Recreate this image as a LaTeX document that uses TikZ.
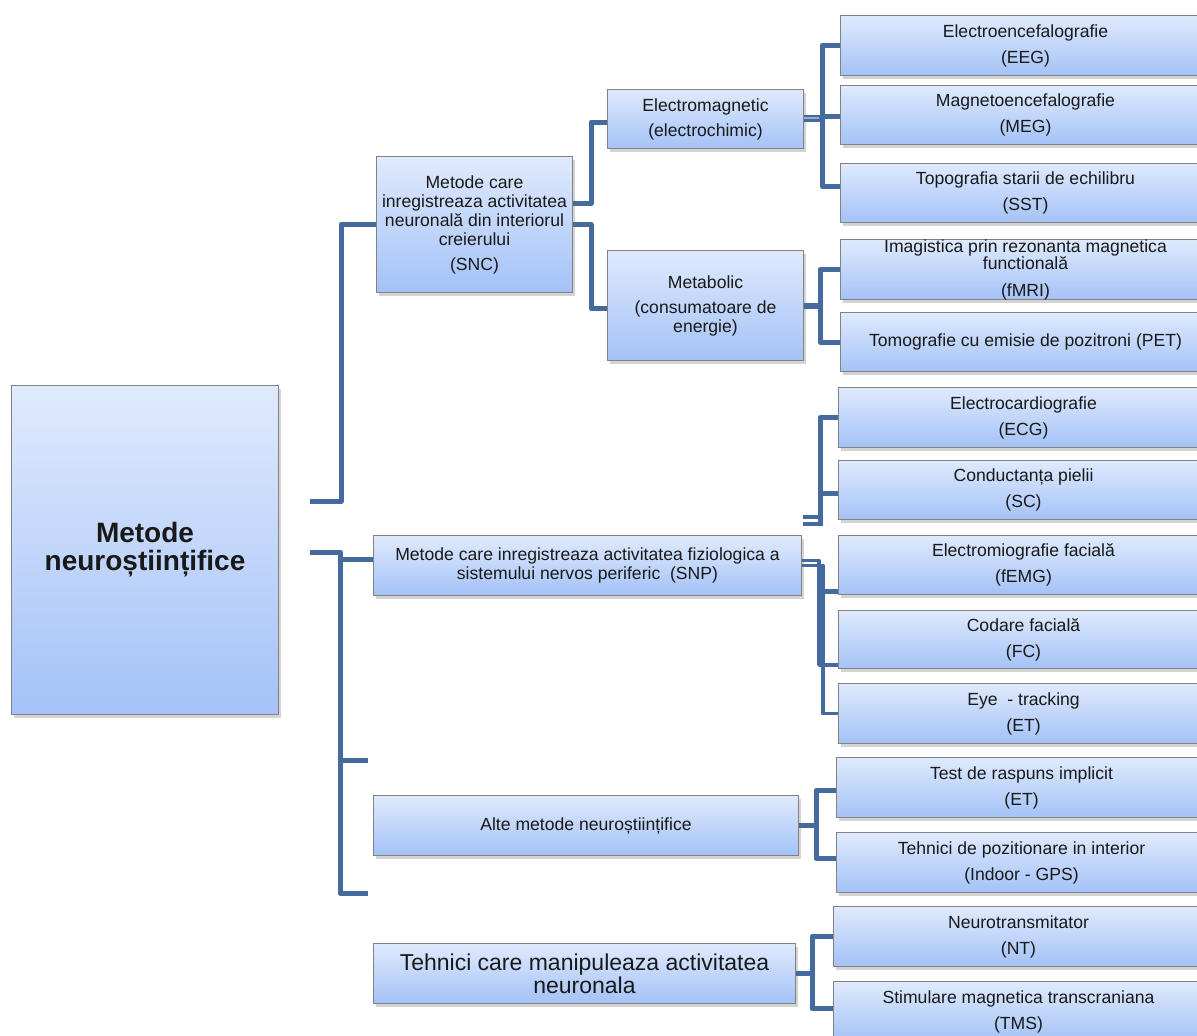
\documentclass[tikz,border=0pt]{standalone}
\usepackage{fontspec}
\setmainfont{Liberation Sans}
\usetikzlibrary{shadows,calc}
\definecolor{boxtop}{RGB}{223,234,253}
\definecolor{boxbot}{RGB}{164,194,247}
\definecolor{boxline}{RGB}{130,130,130}
\definecolor{connc}{RGB}{68,106,158}
\definecolor{txt}{RGB}{25,25,25}
\begin{document}
\begin{tikzpicture}[x=1pt,y=-1pt,
  box/.style={draw=boxline, line width=1pt, top color=boxtop, bottom color=boxbot,
    anchor=north west, inner sep=0pt, align=center, text=txt,
    font=\fontsize{17.6}{19}\selectfont,
    drop shadow={shadow xshift=2pt, shadow yshift=-3pt, opacity=0.35}},
  rbox/.style={box, minimum width=370, minimum height=59},
  conn/.style={draw=connc, line width=5pt, line join=round},
  thinconn/.style={draw=connc, line width=3.5pt, line join=round}]
\useasboundingbox (0,0) rectangle (1197,1036);
\clip (0,0) rectangle (1197,1036);

% main
\node[box, minimum width=267, minimum height=329,
  font=\fontsize{28}{28}\selectfont\bfseries] (main) at (11,385) {Metode\\neuroștiințifice};

% level 1
\node[box, minimum width=196, minimum height=136] (snc) at (376,156)
  {Metode care\\inregistreaza activitatea\\neuronală din interiorul\\creierului\\[6pt](SNC)};
\node[box, minimum width=428, minimum height=60] (snp) at (373,535)
  {Metode care inregistreaza activitatea fiziologica a\\sistemului nervos periferic\ \ (SNP)};
\node[box, minimum width=425, minimum height=60] (alte) at (373,795)
  {Alte metode neuroștiințifice};
\node[box, minimum width=422, minimum height=60, font=\fontsize{23}{23}\selectfont] (teh) at (373,943)
  {Tehnici care manipuleaza activitatea\\neuronala};

% level 2
\node[box, minimum width=196, minimum height=59] (em) at (607,89)
  {Electromagnetic\\[6pt](electrochimic)};
\node[box, minimum width=196, minimum height=110] (met) at (607,250)
  {Metabolic\\[6pt](consumatoare de\\energie)};

% right column
\node[rbox, minimum height=60] (eeg) at (840,15) {Electroencefalografie\\[7pt](EEG)};
\node[rbox] (meg) at (840,85) {Magnetoencefalografie\\[7pt](MEG)};
\node[rbox] (sst) at (840,163) {Topografia starii de echilibru\\[7pt](SST)};
\node[rbox, minimum height=58] (fmri) at (840,239)
  {Imagistica prin rezonanta magnetica\\[-2pt]functională\\[8pt](fMRI)};
\node[rbox] (pet) at (840,312) {Tomografie cu emisie de pozitroni (PET)};
\node[rbox, minimum height=60] (ecg) at (838,387) {Electrocardiografie\\[7pt](ECG)};
\node[rbox] (sc) at (838,460) {Conductanța pielii\\[7pt](SC)};
\node[rbox] (femg) at (838,535) {Electromiografie facială\\[7pt](fEMG)};
\node[rbox, minimum height=58] (fc) at (838,610) {Codare facială\\[7pt](FC)};
\node[rbox, minimum height=60] (et) at (838,683) {Eye\ \ - tracking\\[7pt](ET)};
\node[rbox, minimum height=60] (test) at (836,757) {Test de raspuns implicit\\[7pt](ET)};
\node[rbox, minimum height=60] (indoor) at (836,832) {Tehnici de pozitionare in interior\\[7pt](Indoor - GPS)};
\node[rbox, minimum height=60] (nt) at (833,906) {Neurotransmitator\\[7pt](NT)};
\node[rbox, minimum height=60] (tms) at (833,981) {Stimulare magnetica transcraniana\\[7pt](TMS)};

% free ends
\coordinate (m1) at (310,501);
\coordinate (m2) at (310,552);
\coordinate (s1) at (368,760);
\coordinate (s2) at (368,893);
\coordinate (k1) at (803,517);
\coordinate (k2) at (803,524);

% main brackets
\draw[conn] (m1) -| ([xshift=-35pt]snc.west) -- (snc.west);
\draw[conn] (m2) -- ++(30,0) |- (s2);
\draw[conn] (s1) -- ++(-28,0);
\draw[conn] ([yshift=6pt]snp.west) -- ++(-33,0);

% SNC
\draw[conn] ([yshift=21pt]snc.east) -- ++(18,0) |- ([yshift=-3pt]em.west);
\draw[conn] (snc.east) -- ++(18,0) |- ([yshift=-3pt]met.west);

% EM
\draw[conn] (eeg.west) -- ++(-18,0) |- ([yshift=7pt]sst.west);
\draw[conn, line width=7pt] ([yshift=1pt]em.east) -- ++(19,0);
\draw[draw=connc!55, line width=1.2pt] ([yshift=1pt]em.east) -- ++(15,0);
\draw[conn] ([xshift=-20pt,yshift=-1pt]meg.west) -- ([yshift=-1pt]meg.west);

% Metabolic
\draw[conn] (fmri.west) -- ++(-20,0) |- (pet.west);
\draw[conn, line width=6pt] (met.east) -- ++(19,0);

% ECG / SC
\draw[conn] (ecg.west) -- ++(-18,0) -- ++(0,108);
\draw[conn] ([yshift=-3pt]sc.west) -- ++(-18,0);
\draw[thinconn] (k1) -- ++(19,0);
\draw[thinconn] (k2) -- ++(19,0);

% SNP
\draw[thinconn] ([yshift=5pt]snp.east) -- ++(17,0) |- ([yshift=4pt]fc.south west);
\draw[thinconn] (snp.east) -- ++(21,0) |- (et.west);
\draw[conn] ([yshift=4pt]femg.south west) -- ++(-17,0);

% Alte
\draw[conn] ([yshift=-3pt]test.west) -- ++(-20,0) |- ([yshift=4pt]indoor.west);
\draw[conn] (alte.east) -- ++(17,0);

% Tehnici
\draw[conn] (nt.west) -- ++(-21,0) |- ([yshift=3pt]tms.west);
\draw[conn] (teh.east) -- ++(17,0);
\end{tikzpicture}
\end{document}
